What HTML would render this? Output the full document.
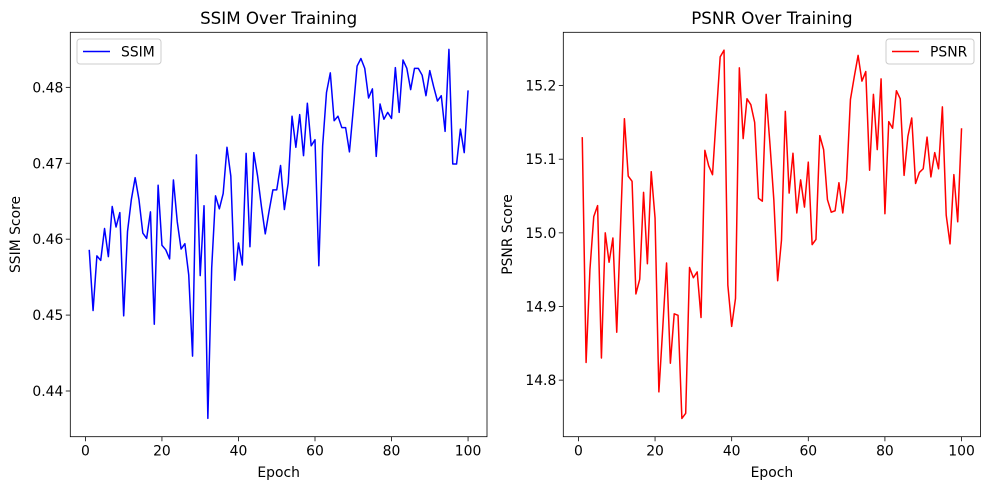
<!DOCTYPE html>
<html><head><meta charset="utf-8"><style>
html,body{margin:0;padding:0;background:#fff;}
svg{display:block;font-family:"DejaVu Sans","Liberation Sans",sans-serif;}
</style></head><body>
<svg id="chart" width="989" height="490" viewBox="0 0 989 490" xmlns="http://www.w3.org/2000/svg"></svg>
<script>
const epochs = Array.from({length:100},(_,i)=>i+1);
const ssimValues = [0.4586,0.4506,0.4578,0.4572,0.4614,0.4577,0.4643,0.4616,0.4635,0.4499,
0.4610,0.4652,0.4681,0.4652,0.4608,0.4601,0.4636,0.4488,0.4671,0.4592,
0.4586,0.4574,0.4678,0.4623,0.4587,0.4594,0.4553,0.4446,0.4711,0.4552,
0.4644,0.4364,0.4562,0.4657,0.4640,0.4660,0.4721,0.4683,0.4546,0.4595,
0.4566,0.4713,0.4590,0.4714,0.4683,0.4643,0.4607,0.4637,0.4665,0.4665,
0.4697,0.4639,0.4674,0.4762,0.4721,0.4764,0.4710,0.4779,0.4723,0.4731,
0.4565,0.4723,0.4793,0.4819,0.4756,0.4762,0.4747,0.4747,0.4715,0.4771,
0.4828,0.4838,0.4825,0.4786,0.4798,0.4709,0.4778,0.4758,0.4767,0.4759,
0.4826,0.4767,0.4836,0.4825,0.4797,0.4825,0.4825,0.4816,0.4789,0.4822,
0.4801,0.4782,0.4789,0.4742,0.4850,0.4699,0.4699,0.4745,0.4714,0.4796];
const psnrValues = [15.130,14.824,14.950,15.022,15.037,14.830,15.000,14.960,14.993,14.865,
15.010,15.155,15.077,15.070,14.917,14.937,15.055,14.958,15.083,15.020,
14.784,14.870,14.959,14.823,14.890,14.888,14.748,14.755,14.953,14.939,
14.947,14.885,15.112,15.091,15.079,15.160,15.239,15.248,14.929,14.873,
14.911,15.224,15.128,15.182,15.174,15.150,15.047,15.043,15.188,15.120,
15.045,14.935,14.990,15.165,15.054,15.108,15.027,15.072,15.035,15.096,
14.984,14.991,15.132,15.113,15.045,15.028,15.030,15.068,15.027,15.072,
15.181,15.212,15.241,15.206,15.219,15.085,15.188,15.113,15.209,15.026,
15.151,15.142,15.193,15.182,15.078,15.131,15.156,15.067,15.082,15.087,
15.130,15.076,15.109,15.087,15.171,15.024,14.985,15.079,15.015,15.142];
const xTicks = [0,20,40,60,80,100];
const ssimTicks = [0.44,0.45,0.46,0.47,0.48];
const ssimTickLabels = ["0.44","0.45","0.46","0.47","0.48"];
const psnrTicks = [14.8,14.9,15.0,15.1,15.2];
const psnrTickLabels = ["14.8","14.9","15.0","15.1","15.2"];

const NS="http://www.w3.org/2000/svg";
const svg=document.getElementById('chart');
function mk(tag,attrs,parent){const e=document.createElementNS(NS,tag);for(const k in attrs)e.setAttribute(k,attrs[k]);(parent||svg).appendChild(e);return e;}

function panel(cfg){
  const g=mk('g',{});
  
  
  const {x0,x1,y0,y1,xmin,xmax,ymin,ymax}=cfg;
  const sx=v=>x0+(v-xmin)/(xmax-xmin)*(x1-x0);
  const sy=v=>y1-(v-ymin)/(ymax-ymin)*(y1-y0);
  const d=epochs.map((e,i)=>(i?'L':'M')+sx(e).toFixed(2)+' '+sy(cfg.values[i]).toFixed(2)).join(' ');
  const p=mk('path',{d:d,fill:'none',stroke:cfg.color,'stroke-width':1.5,'stroke-linejoin':'round'},g);
  
  
  const fr=mk('rect',{x:x0,y:y0,width:x1-x0,height:y1-y0,fill:'none',stroke:'#000','stroke-width':0.8},g);
  
  
  xTicks.forEach(t=>{
    const x=sx(t);
    mk('line',{x1:x,x2:x,y1:y1,y2:y1+4.5,stroke:'#000','stroke-width':0.8},g);
    const tx=mk('text',{x:x,y:y1+19,'font-size':13.9,'text-anchor':'middle',fill:'#000'},g);
    tx.textContent=String(t);
    
    
  });
  cfg.yTicks.forEach((t,i)=>{
    const y=sy(t);
    mk('line',{x1:x0-4.5,x2:x0,y1:y,y2:y,stroke:'#000','stroke-width':0.8},g);
    const tx=mk('text',{x:x0-7,y:y+5,'font-size':13.9,'text-anchor':'end',fill:'#000'},g);
    tx.textContent=cfg.yLabels[i];
    
    
  });
  const title=mk('text',{x:(x0+x1)/2,y:24,'font-size':16.7,'text-anchor':'middle',fill:'#000'},g);
  title.textContent=cfg.title;
  
  
  const xl=mk('text',{x:(x0+x1)/2,y:477,'font-size':13.9,'text-anchor':'middle',fill:'#000'},g);
  xl.textContent='Epoch';
  
  
  const yx=cfg.yTitleX, yy=(y0+y1)/2;
  const yl=mk('text',{x:yx,y:yy,'font-size':13.9,'text-anchor':'middle',fill:'#000',transform:`rotate(-90 ${yx} ${yy})`},g);
  yl.textContent=cfg.yTitle;
  
  
  const lg=mk('g',{},g);
  
  
  mk('rect',{x:cfg.lx,y:39,width:cfg.lw,height:25,rx:3,fill:'#fff','fill-opacity':0.8,stroke:'#ccc','stroke-width':1},lg);
  mk('line',{x1:cfg.lx+6,x2:cfg.lx+33,y1:51.5,y2:51.5,stroke:cfg.color,'stroke-width':1.5},lg);
  const lt=mk('text',{x:cfg.lx+44,y:56.5,'font-size':13.9,fill:'#000'},lg);
  lt.textContent=cfg.legend;
  
  
}
panel({name:'ssim',x0:70.3,x1:487,y0:32.3,y1:436.7,xmin:-3.95,xmax:104.95,ymin:0.43398,ymax:0.48725,
  values:ssimValues,color:'#0000ff',yTicks:ssimTicks,yLabels:ssimTickLabels,title:'SSIM Over Training',
  yTitle:'SSIM Score',yTitleX:20,lx:77,lw:84,legend:'SSIM'});
panel({name:'psnr',x0:563.3,x1:980.5,y0:32.3,y1:436.7,xmin:-3.95,xmax:104.95,ymin:14.7232,ymax:15.2723,
  values:psnrValues,color:'#ff0000',yTicks:psnrTicks,yLabels:psnrTickLabels,title:'PSNR Over Training',
  yTitle:'PSNR Score',yTitleX:512,lx:886,lw:88,legend:'PSNR'});
</script>
</body></html>
